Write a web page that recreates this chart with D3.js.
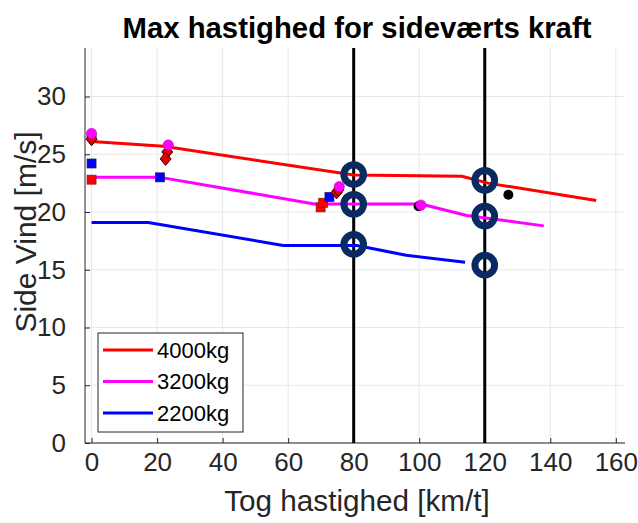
<!DOCTYPE html>
<html>
<head>
<meta charset="utf-8">
<script src="https://cdn.jsdelivr.net/npm/d3@7"></script>
<style>
  body { margin: 0; background: #fff; }
  svg { display: block; }
  text { font-family: "Liberation Sans", Arial, Helvetica, sans-serif; }
</style>
</head>
<body>
<svg id="chart" width="638" height="523"></svg>
<script>
// Axis ticks
const speedTicks = [0, 20, 40, 60, 80, 100, 120, 140, 160];
const windTicks = [0, 5, 10, 15, 20, 25, 30];

// Limit curves: [train speed km/t, side wind m/s]
const curve4000 = [[0, 26.1], [22, 25.7], [80, 23.2], [113, 23.1], [121, 22.5], [154, 21.0]];
const curve3200 = [[0, 23.0], [21, 23.0], [68, 20.7], [100.5, 20.7], [114.5, 19.7], [138, 18.8]];
const curve2200 = [[0, 19.1], [17.3, 19.1], [58.5, 17.1], [81, 17.1], [96, 16.25], [114, 15.65]];

const seriesNames = ["4000kg", "3200kg", "2200kg"];
const seriesColors = ["#ff0000", "#ff00ff", "#0000ff"];

// Measured points
const redSquares = [[0, 22.8], [69.9, 20.4], [70.7, 20.8]];
const blueSquares = [[0, 24.2], [20.9, 23.0], [72.6, 21.3]];
const blackCircles = [[0, 26.5], [99.8, 20.5], [127.2, 21.5]];
const redDiamonds = [[0, 26.3], [23.1, 25.2], [22.6, 24.6], [74.8, 21.7], [75.3, 21.9]];
const magentaCircles = [[0, 26.8], [23.4, 25.8], [75.6, 22.2], [100.5, 20.6]];

// Reference speeds and the wind limits read at them
const refSpeeds = [80, 120];
const refRings = [[80, 23.25], [80, 20.67], [80, 17.2], [120, 22.75], [120, 19.65], [120, 15.4]];

const svg = d3.select("#chart");
const plotLeft = 85, plotRight = 625, plotTop = 48, plotBottom = 443;

const x = d3.scaleLinear().domain([-2, 162.8]).range([plotLeft, plotRight]);
const y = d3.scaleLinear().domain([0, 34.2]).range([plotBottom, plotTop]);

const axisColor = "#262626";
const gridColor = "#e8e8e8";

// Grid
const grid = svg.append("g");
grid.selectAll("line.gx").data(speedTicks).join("line")
  .attr("x1", d => x(d)).attr("x2", d => x(d))
  .attr("y1", plotTop).attr("y2", plotBottom)
  .attr("stroke", gridColor).attr("stroke-width", 1);
grid.selectAll("line.gy").data(windTicks).join("line")
  .attr("y1", d => y(d)).attr("y2", d => y(d))
  .attr("x1", plotLeft).attr("x2", plotRight)
  .attr("stroke", gridColor).attr("stroke-width", 1);

// Axes (ticks point inward)
const xAxis = d3.axisBottom(x).tickValues(speedTicks).tickSize(-5).tickPadding(10).tickFormat(d3.format("d"));
const yAxis = d3.axisLeft(y).tickValues(windTicks).tickSize(-5).tickPadding(19).tickFormat(d3.format("d"));

const gx = svg.append("g").attr("transform", `translate(0,${plotBottom})`).call(xAxis);
gx.select(".domain").attr("d", `M${plotLeft},0H${plotRight}`);
const gy = svg.append("g").attr("transform", `translate(${plotLeft},0)`).call(yAxis);
gy.select(".domain").attr("d", `M0,${plotBottom}V${plotTop}`);

[gx, gy].forEach(g => {
  g.select(".domain").attr("stroke", axisColor).attr("stroke-width", 1);
  g.selectAll(".tick line").attr("stroke", axisColor);
  g.selectAll(".tick text").attr("fill", axisColor).style("font-size", "26px")
    .style("font-family", '"Liberation Sans", Arial, sans-serif');
});
gx.selectAll(".tick text").attr("dy", "0.71em");

// Reference speed lines
svg.append("g").selectAll("line").data(refSpeeds).join("line")
  .attr("x1", d => x(d)).attr("x2", d => x(d))
  .attr("y1", plotTop).attr("y2", plotBottom)
  .attr("stroke", "#000").attr("stroke-width", 3);

// Curves
const line = d3.line().x(d => x(d[0])).y(d => y(d[1]));
const curves = [curve4000, curve3200, curve2200];
svg.append("g").selectAll("path").data(curves).join("path")
  .attr("d", line)
  .attr("fill", "none")
  .attr("stroke", (d, i) => seriesColors[i])
  .attr("stroke-width", 3)
  .attr("stroke-linejoin", "round");

// Markers
const mk = svg.append("g");
mk.selectAll("rect.rs").data(redSquares).join("rect")
  .attr("x", d => x(d[0]) - 4.5).attr("y", d => y(d[1]) - 4.5)
  .attr("width", 9).attr("height", 9)
  .attr("fill", "#ff0000").attr("stroke", "#8a1010").attr("stroke-width", 0.7);
mk.selectAll("rect.bs").data(blueSquares).join("rect")
  .attr("x", d => x(d[0]) - 4.5).attr("y", d => y(d[1]) - 4.5)
  .attr("width", 9).attr("height", 9)
  .attr("fill", "#0000ff").attr("stroke", "#1a1a5a").attr("stroke-width", 0.7);
mk.selectAll("circle.bc").data(blackCircles).join("circle")
  .attr("cx", d => x(d[0])).attr("cy", d => y(d[1]))
  .attr("r", 5).attr("fill", "#000");
mk.selectAll("path.rd").data(redDiamonds).join("path")
  .attr("d", d => { const cx = x(d[0]), cy = y(d[1]); return `M${cx},${cy - 6.5}L${cx + 5.5},${cy}L${cx},${cy + 6.5}L${cx - 5.5},${cy}Z`; })
  .attr("fill", "#e00000").attr("stroke", "#3a0000").attr("stroke-width", 1);
mk.selectAll("circle.mc").data(magentaCircles).join("circle")
  .attr("cx", d => x(d[0])).attr("cy", d => y(d[1]))
  .attr("r", 5.2).attr("fill", "#ff00ff").attr("stroke", "#a000a0").attr("stroke-width", 0.5);

// Rings at reference speeds
svg.append("g").selectAll("circle").data(refRings).join("circle")
  .attr("cx", d => x(d[0])).attr("cy", d => y(d[1]))
  .attr("r", 9.8).attr("fill", "none")
  .attr("stroke", "#0a2a62").attr("stroke-width", 7);

// Legend
const lg = svg.append("g").attr("transform", "translate(98,333)");
lg.append("rect").attr("width", 145).attr("height", 99)
  .attr("fill", "#fff").attr("stroke", "#262626").attr("stroke-width", 1);
seriesNames.forEach((name, i) => {
  const yy = 17 + i * 31.5;
  lg.append("line").attr("x1", 5).attr("x2", 55).attr("y1", yy).attr("y2", yy)
    .attr("stroke", seriesColors[i]).attr("stroke-width", 3);
  lg.append("text").attr("x", 59).attr("y", yy).attr("dy", "0.36em")
    .attr("fill", "#000").style("font-size", "22px").text(name);
});

// Titles
svg.append("text").attr("x", 357).attr("y", 38).attr("text-anchor", "middle")
  .style("font-size", "29.3px").style("font-weight", "bold").attr("fill", "#000")
  .text("Max hastighed for sideværts kraft");
svg.append("text").attr("x", 357).attr("y", 511).attr("text-anchor", "middle")
  .style("font-size", "29.7px").attr("fill", axisColor)
  .text("Tog hastighed [km/t]");
svg.append("text").attr("transform", "translate(36,232) rotate(-90)").attr("text-anchor", "middle")
  .style("font-size", "30px").attr("fill", axisColor)
  .text("Side Vind [m/s]");
</script>
</body>
</html>
